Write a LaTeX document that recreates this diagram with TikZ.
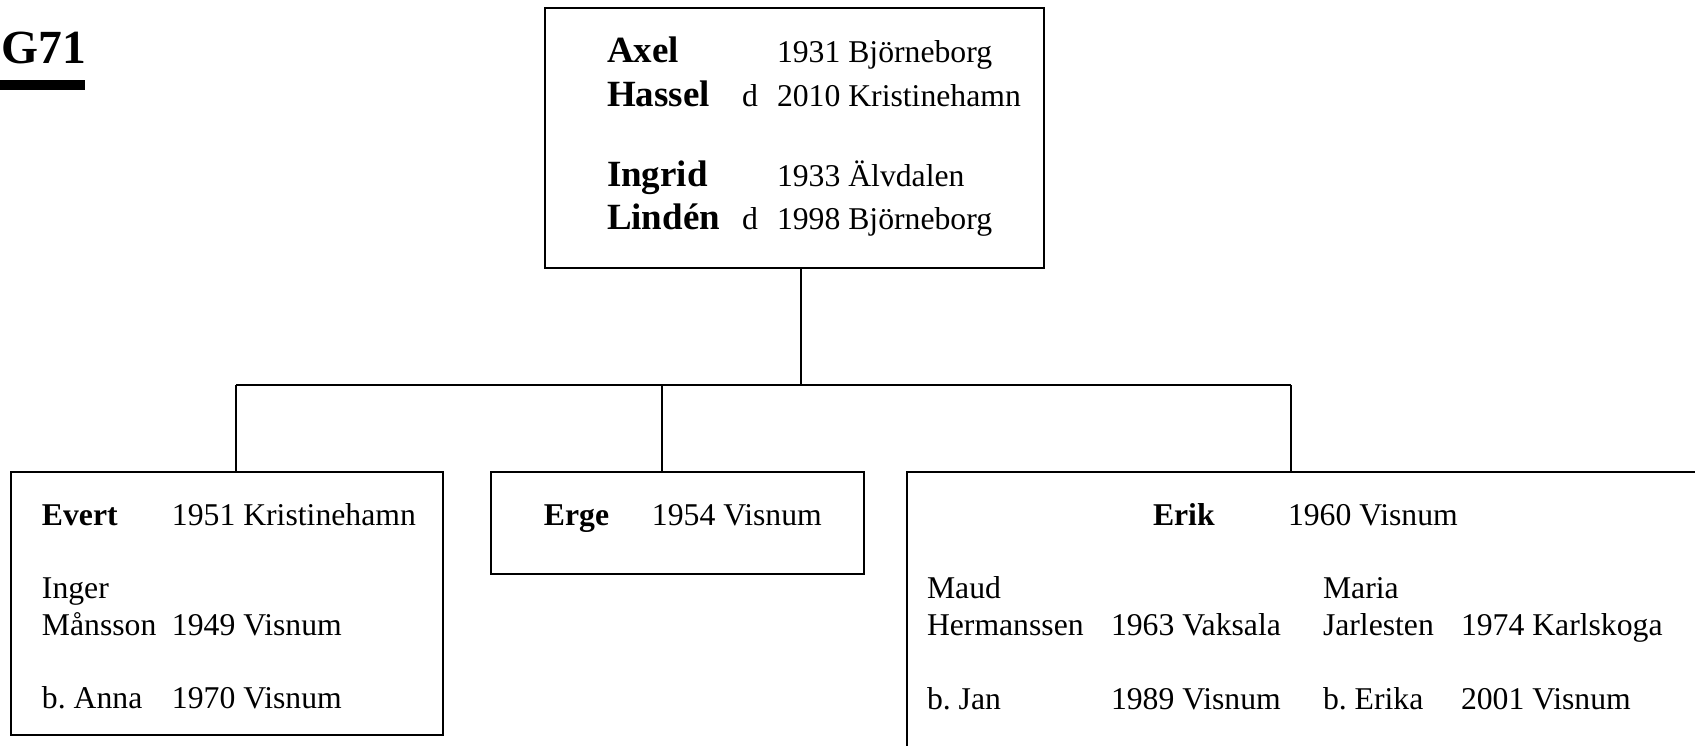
\documentclass[tikz,border=0pt]{standalone}
\usepackage{fontspec}
\setmainfont{Liberation Serif}
\frenchspacing

\begin{document}
\begin{tikzpicture}[x=0.3786pt, y=-0.3786pt, line width=0.75pt,
        b/.style={draw, inner sep=0, outer sep=0},
        t/.style={anchor=base west, inner sep=0, font=\fontsize{12}{14}\selectfont},
        nb/.style={t, font=\fontsize{12}{14}\selectfont\bfseries},
        nl/.style={t, font=\fontsize{14}{17}\selectfont\bfseries}
      ]
    \clip (0,0) rectangle (1695,746);
    \node[t, font=\fontsize{18}{22}\selectfont\bfseries] (G) at (1,64) {G71};
    \fill (0,80) rectangle (85,90);

    \node[b, minimum width=188.9pt, minimum height=98.4pt] (P) at (794.5,138) {};
    \node[nl] (P1) at (606,63) {Axel};
    \node[t] (P1b) at (776,63) {1931 Björneborg};
    \node[nl] (P2) at (606,107) {Hassel};
    \node[t] (P2d) at (741,107) {d};
    \node[t] (P2b) at (776,107) {2010 Kristinehamn};
    \node[nl] (P3) at (606,186) {Ingrid};
    \node[t] (P3b) at (776,186) {1933 Älvdalen};
    \node[nl] (P4) at (606,229) {Lindén};
    \node[t] (P4d) at (741,229) {d};
    \node[t] (P4b) at (776,229) {1998 Björneborg};

    \node[b, minimum width=163.6pt, minimum height=99.6pt] (C1) at (227,603.5) {};
    \node[nb] (C1n) at (41,525) {Evert};
    \node[t] (C1b) at (171,525) {1951 Kristinehamn};
    \node[t] (C1s) at (41,598) {Inger};
    \node[t] (C1m) at (41,635) {Månsson};
    \node[t] (C1sb) at (171,635) {1949 Visnum};
    \node[t] (C1k) at (41,708) {b. Anna};
    \node[t] (C1kb) at (171,708) {1970 Visnum};

    \node[b, minimum width=141.2pt, minimum height=38.6pt] (C2) at (677.5,523) {};
    \node[nb] (C2n) at (543,525) {Erge};
    \node[t] (C2b) at (651,525) {1954 Visnum};

    \node[b, minimum width=323pt, minimum height=124.2pt] (C3) at (1333.5,636) {};
    \node[nb] (C3n) at (1152,525) {Erik};
    \node[t] (C3b) at (1287,525) {1960 Visnum};
    \node[t] (C3s) at (926,598) {Maud};
    \node[t] (C3m) at (926,635) {Hermanssen};
    \node[t] (C3sb) at (1110,635) {1963 Vaksala};
    \node[t] (C3k) at (926,709) {b. Jan};
    \node[t] (C3kb) at (1110,709) {1989 Visnum};
    \node[t] (C3s2) at (1322,598) {Maria};
    \node[t] (C3m2) at (1322,635) {Jarlesten};
    \node[t] (C3sb2) at (1460,635) {1974 Karlskoga};
    \node[t] (C3k2) at (1322,709) {b. Erika};
    \node[t] (C3kb2) at (1460,709) {2001 Visnum};

    \coordinate (J) at (801,385);
    \coordinate (J1) at (236,385);
    \coordinate (J2) at (662,385);
    \coordinate (J3) at (1291,385);
    \draw (P.south -| J) -- (J);
    \draw (J1) -- (J3);
    \draw (J1) -- (J1 |- C1.north);
    \draw (J2) -- (J2 |- C2.north);
    \draw (J3) -- (J3 |- C3.north);
  \end{tikzpicture}
\end{document}
